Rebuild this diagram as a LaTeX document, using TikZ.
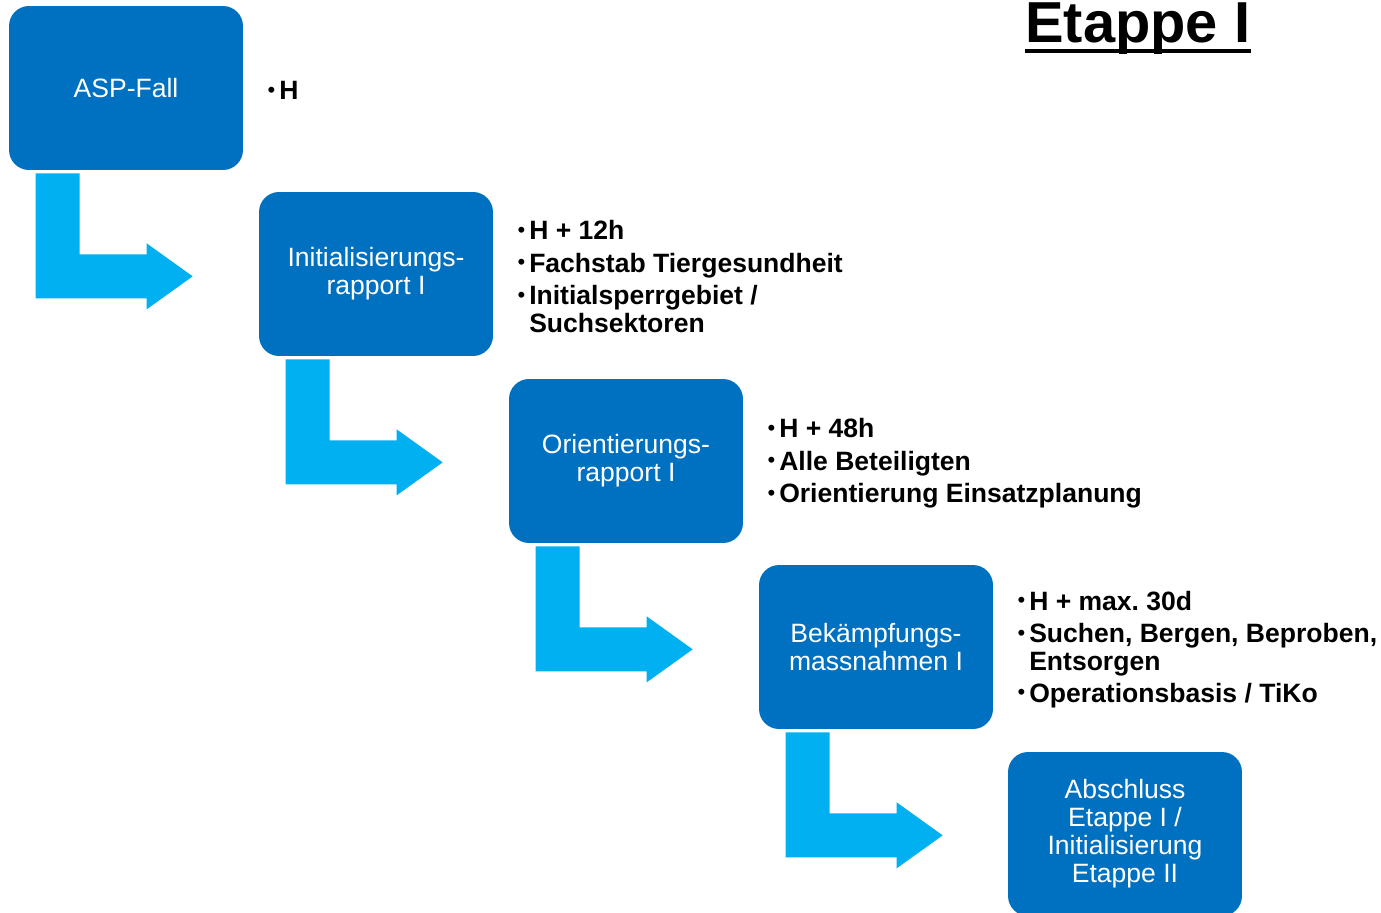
\documentclass[tikz,border=0pt]{standalone}
\usepackage{fontspec}
\setmainfont{Liberation Sans}
\usetikzlibrary{positioning}
\usepackage{xcolor}
\frenchspacing

\definecolor{boxblue}{HTML}{0070C0}
\definecolor{arrowblue}{HTML}{00B0F0}

\newcommand{\bul}{\makebox[6.6pt][l]{\raisebox{1.4pt}{\normalfont\fontsize{12.5}{12.5}\selectfont\textbullet}}}
\newcommand{\ind}{\hspace*{6.6pt}}

\tikzset{
  stage/.style={fill=boxblue, rounded corners=0.4cm, minimum width=4.68cm,
    minimum height=3.28cm, inner sep=0pt, text=white, align=center,
    font=\fontsize{15.1}{15.9}\selectfont},
  notes/.style={align=left, inner sep=0pt, yshift=-0.05cm,
    font=\bfseries\fontsize{15.1}{15.6}\selectfont},
  bendarrow/.style={fill=arrowblue},
}

\begin{document}
\begin{tikzpicture}[x=0.02cm, y=-0.02cm]
  \useasboundingbox (0,0) rectangle (1381,912);

  % stages
  \node[stage] (asp) at (126,88) {ASP-Fall};
  \node[stage] (init) at (376,274) {Initialisierungs-\\rapport I};
  \node[stage] (orient) at (626,461) {Orientierungs-\\rapport I};
  \node[stage] (bekaempf) at (876,647) {Bekämpfungs-\\massnahmen I};
  \node[stage] (abschluss) at (1125,834) {Abschluss\\Etappe I /\\Initialisierung\\Etappe II};

  % bent arrows between stages
  \foreach \src in {asp,init,orient,bekaempf} {
    \begin{scope}[shift={(\src.south west)}]
      \fill[bendarrow] (27,3) -- (71,3) -- (71,84) -- (138,84) -- (138,73)
        -- (184,106) -- (138,139) -- (138,128) -- (27,128) -- cycle;
    \end{scope}
  }

  % notes
  \node[notes, right=0.48cm of asp] (aspnotes) {\bul H};
  \node[notes, right=0.48cm of init] (initnotes)
    {\bul H + 12h\\[2.8pt]\bul Fachstab Tiergesundheit\\[2.8pt]\bul Initialsperrgebiet /\\\ind Suchsektoren};
  \node[notes, right=0.48cm of orient] (orientnotes)
    {\bul H + 48h\\[2.8pt]\bul Alle Beteiligten\\[2.8pt]\bul Orientierung Einsatzplanung};
  \node[notes, right=0.48cm of bekaempf] (bekaempfnotes)
    {\bul H + max. 30d\\[2.8pt]\bul Suchen, Bergen, Beproben,\\\ind Entsorgen\\[2.8pt]\bul Operationsbasis / TiKo};

  % title
  \node[anchor=base west, inner sep=0pt, font=\bfseries\fontsize{32.9}{36}\selectfont]
    (title) at (1025,43) {Etappe I};
  \draw[line width=2.6pt] ([yshift=-0.16cm]title.base west) -- ([yshift=-0.16cm]title.base east);
\end{tikzpicture}
\end{document}
